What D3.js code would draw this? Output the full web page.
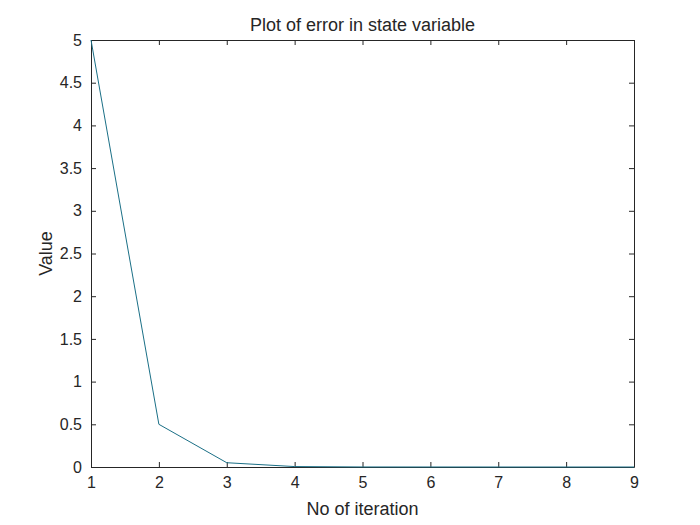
<!DOCTYPE html>
<html><head><meta charset="utf-8">
<script src="https://cdn.jsdelivr.net/npm/d3@7"></script>
<style>body{margin:0;background:#fff;} text{font-family:"Liberation Sans",Arial,sans-serif;fill:#262626;}</style>
</head><body>
<svg id="c" width="700" height="525"></svg>
<script>
const iterations = [1, 2, 3, 4, 5, 6, 7, 8, 9];
const errorValues = [5, 0.5, 0.05, 0.005, 0.0005, 0.00005, 0.000005, 0.0000005, 0.00000005];
const xTicks = [1, 2, 3, 4, 5, 6, 7, 8, 9];
const yTicks = [0, 0.5, 1, 1.5, 2, 2.5, 3, 3.5, 4, 4.5, 5];
const titleText = "Plot of error in state variable";
const xLabel = "No of iteration";
const yLabel = "Value";

const svg = d3.select("#c");
const L = 91, R = 634, T = 40, B = 467;
const x = d3.scaleLinear().domain([1, 9]).range([L, R]);
const y = d3.scaleLinear().domain([0, 5]).range([B, T]);

svg.append("rect").attr("width",700).attr("height",525).attr("fill","#fff");

const tl = 5;
const fmt = d => String(d);
const g = svg.append("g");
const ax = d3.axisBottom(x).tickValues(xTicks).tickFormat(fmt).tickSizeInner(-tl).tickSizeOuter(0).tickPadding(10);
const ay = d3.axisLeft(y).tickValues(yTicks).tickFormat(fmt).tickSizeInner(-tl).tickSizeOuter(0).tickPadding(9);
const axTop = d3.axisTop(x).tickValues(xTicks).tickFormat("").tickSizeInner(-tl).tickSizeOuter(0);
const ayRight = d3.axisRight(y).tickValues(yTicks).tickFormat("").tickSizeInner(-tl).tickSizeOuter(0);

function style(sel){
  sel.selectAll("path").attr("stroke","#262626").attr("stroke-width",1);
  sel.selectAll("line").attr("stroke","#262626").attr("stroke-width",1);
  sel.selectAll("text").attr("font-size",16).attr("fill","#262626").attr("font-family","Liberation Sans, Arial, sans-serif");
}
style(g.append("g").attr("transform",`translate(0,${B})`).call(ax));
style(g.append("g").attr("transform",`translate(${L},0)`).call(ay));
style(g.append("g").attr("transform",`translate(0,${T})`).call(axTop));
style(g.append("g").attr("transform",`translate(${R},0)`).call(ayRight));

const line = d3.line().x((d,i)=>x(iterations[i])).y(d=>y(d));
svg.append("path").datum(errorValues).attr("d",line).attr("fill","none")
  .attr("stroke","#1a6f86").attr("stroke-width",1);

svg.append("text").attr("x",(L+R)/2).attr("y",31).attr("text-anchor","middle").attr("font-size",18).text(titleText);
svg.append("text").attr("x",(L+R)/2).attr("y",515).attr("text-anchor","middle").attr("font-size",18).text(xLabel);
svg.append("text").attr("transform",`translate(52,${(T+B)/2}) rotate(-90)`).attr("text-anchor","middle").attr("font-size",18).text(yLabel);
</script>
</body></html>
